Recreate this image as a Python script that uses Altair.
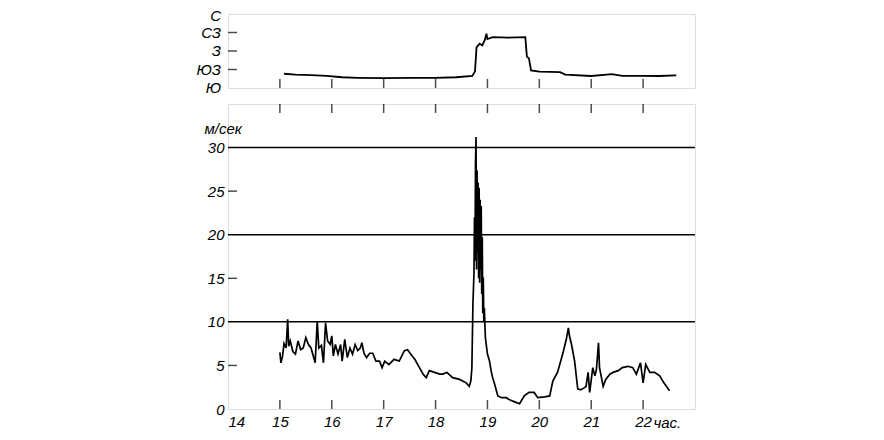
import altair as alt
import pandas as pd

# ---- data ----
speed_hours = [15.00, 15.02, 15.05, 15.08, 15.12, 15.15, 15.17, 15.20, 15.25, 15.30,
               15.35, 15.40, 15.45, 15.50, 15.55, 15.60, 15.68, 15.72, 15.75, 15.80,
               15.84, 15.88, 15.92, 15.97, 16.00, 16.03, 16.07, 16.12, 16.17, 16.20,
               16.25, 16.30, 16.35, 16.40, 16.45, 16.50, 16.55, 16.58, 16.62, 16.67,
               16.73, 16.79, 16.85, 16.92, 16.97, 17.02, 17.10, 17.20, 17.30, 17.40,
               17.46, 17.52, 17.60, 17.69, 17.76, 17.82, 17.88, 17.98, 18.08, 18.14,
               18.22, 18.33, 18.46, 18.59, 18.65, 18.68, 18.70, 18.72, 18.74, 18.75,
               18.76, 18.77, 18.78, 18.79, 18.80, 18.81, 18.82, 18.83, 18.84, 18.85,
               18.86, 18.87, 18.88, 18.89, 18.90, 18.91, 18.92, 18.93, 18.94, 18.96,
               19.00, 19.04, 19.07, 19.10, 19.14, 19.20, 19.27, 19.36, 19.42, 19.49,
               19.62, 19.71, 19.80, 19.90, 19.97, 20.10, 20.20, 20.26, 20.35, 20.45,
               20.52, 20.56, 20.58, 20.62, 20.68, 20.74, 20.80, 20.87, 20.90, 20.94,
               20.97, 21.03, 21.07, 21.10, 21.14, 21.16, 21.23, 21.28, 21.36, 21.42,
               21.52, 21.60, 21.71, 21.80, 21.87, 21.95, 22.00, 22.05, 22.13, 22.22,
               22.32, 22.40, 22.51]
speed_values = [6.5, 5.3, 6.0, 7.5, 7.0, 10.3, 7.2, 7.8, 6.6, 6.3,
                7.8, 6.8, 7.0, 8.2, 7.4, 7.0, 5.3, 10.1, 7.0, 7.3,
                5.3, 9.9, 7.8, 7.4, 8.4, 6.1, 7.4, 6.3, 7.4, 5.5,
                8.0, 5.9, 7.0, 6.3, 7.4, 6.7, 7.0, 7.6, 6.4, 5.9,
                6.4, 6.4, 5.5, 5.5, 4.75, 5.5, 5.1, 5.7, 5.5, 6.7,
                6.8, 6.3, 5.7, 4.75, 4.0, 3.6, 4.4, 4.2, 4.0, 4.0,
                4.2, 3.6, 3.4, 3.0, 2.6, 3.2, 4.7, 12.0, 15.5, 22.0,
                17.0, 28.0, 31.2, 16.0, 27.4, 18.0, 26.0, 15.0, 25.4, 14.5,
                24.0, 16.0, 23.3, 13.2, 19.7, 11.0, 15.1, 10.1, 11.6, 8.2,
                6.3, 5.5, 4.4, 3.6, 2.8, 1.5, 1.3, 1.3, 1.1, 0.9,
                0.6, 1.5, 1.9, 1.9, 1.3, 1.4, 1.5, 3.2, 4.2, 6.3,
                8.0, 9.3, 8.4, 7.4, 5.5, 2.3, 2.2, 2.45, 2.6, 4.2,
                1.9, 4.75, 3.8, 4.5, 7.6, 4.75, 2.6, 3.4, 4.0, 4.2,
                4.4, 4.75, 4.9, 4.75, 4.0, 5.3, 3.0, 5.1, 4.2, 4.2,
                3.8, 3.0, 2.1]

# wind direction: 0 = Ю, 1 = ЮЗ, 2 = З, 3 = СЗ, 4 = С
dir_hours = [15.08, 15.30, 15.60, 15.90, 16.20, 16.50, 17.00, 17.50, 18.00, 18.40,
             18.71, 18.76, 18.79, 18.85, 18.90, 18.95, 18.98, 19.00, 19.10, 19.40,
             19.73, 19.76, 19.80, 19.84, 20.00, 20.40, 20.50, 21.00, 21.40, 21.60,
             22.00, 22.30, 22.64]
dir_values = [0.77, 0.72, 0.70, 0.65, 0.58, 0.55, 0.53, 0.55, 0.55, 0.58,
              0.65, 0.90, 2.20, 2.40, 2.30, 2.60, 2.93, 2.65, 2.75, 2.72,
              2.75, 1.70, 1.60, 0.95, 0.88, 0.86, 0.72, 0.65, 0.75, 0.66,
              0.65, 0.65, 0.68]
dir_labels = ["Ю", "ЮЗ", "З", "СЗ", "С"]
dir_label_pos = [0, 1, 2, 3, 4]

x_labels = [14, 15, 16, 17, 18, 19, 20, 21, 22]
inner_x_ticks = [15, 16, 17, 18, 19, 20, 21, 22]
speed_labels = [0, 5, 10, 15, 20, 25, 30]
speed_inner_ticks = [5, 15, 25]
dir_inner_ticks = [1, 2, 3]
grid_values = [10, 20, 30]

FONT = "Liberation Sans"
W = 467
H_TOP = 74
H_BOT = 305
X_MIN, X_MAX = 14, 23
Y_MAX = 35

xscale = alt.Scale(domain=[X_MIN, X_MAX], nice=False, zero=False)
ytop = alt.Scale(domain=[0, 4], nice=False)
ybot = alt.Scale(domain=[0, Y_MAX], nice=False)

speed_df = pd.DataFrame({"t": speed_hours, "v": speed_values})
dir_df = pd.DataFrame({"t": dir_hours, "d": dir_values})
lab_df = pd.DataFrame({"t": [X_MIN] * len(dir_labels), "d": dir_label_pos, "lab": dir_labels})

lbl = dict(labelFont=FONT, labelFontStyle="italic", labelFontSize=15, labelColor="black",
           labelOverlap=False)

# ---------- top panel (all axes drawn by hand) ----------
top_line = alt.Chart(dir_df).mark_line(color="black", strokeWidth=1.8).encode(
    x=alt.X("t:Q", scale=xscale, axis=None),
    y=alt.Y("d:Q", scale=ytop, axis=None),
)
txt = dict(font=FONT, fontStyle="italic", fontSize=15, align="right", baseline="middle", dx=-7,
           color="black")
top_labels = alt.Chart(lab_df).transform_filter("datum.d < 4").mark_text(**txt).encode(
    x=alt.X("t:Q", scale=xscale, axis=None), y=alt.Y("d:Q", scale=ytop, axis=None), text="lab:N")
top_label_n = alt.Chart(lab_df).transform_filter("datum.d == 4").mark_text(dy=2, **txt).encode(
    x=alt.X("t:Q", scale=xscale, axis=None), y=alt.Y("d:Q", scale=ytop, axis=None), text="lab:N")
top_yt = alt.Chart(pd.DataFrame({"t": [X_MIN] * len(dir_inner_ticks), "d": dir_inner_ticks})).mark_tick(
    orient="horizontal", size=9, thickness=1.5, color="black", xOffset=4.5
).encode(x=alt.X("t:Q", scale=xscale, axis=None), y=alt.Y("d:Q", scale=ytop, axis=None))
top_xt = alt.Chart(pd.DataFrame({"t": inner_x_ticks, "d": [0] * len(inner_x_ticks)})).mark_tick(
    orient="vertical", size=9, thickness=1.5, color="black", yOffset=-4.5
).encode(x=alt.X("t:Q", scale=xscale, axis=None), y=alt.Y("d:Q", scale=ytop, axis=None))
top = alt.layer(top_line, top_labels, top_label_n, top_yt, top_xt).properties(width=W, height=H_TOP)

# ---------- bottom panel ----------
bot_line = alt.Chart(speed_df).mark_line(color="black", strokeWidth=1.7).encode(
    x=alt.X("t:Q", scale=xscale,
            axis=alt.Axis(values=x_labels, format="d", title=None, ticks=False, domain=False,
                          grid=False, labelPadding=5, **lbl)),
    y=alt.Y("v:Q", scale=ybot,
            axis=alt.Axis(values=speed_labels, format="d", ticks=False, domain=False, grid=False,
                          labelPadding=4, title="м/сек", titleAngle=0, titleAlign="left",
                          titleBaseline="alphabetic", titleX=-24, titleY=29, titleFont=FONT,
                          titleFontStyle="italic", titleFontWeight="normal", titleFontSize=15,
                          titleColor="black", **lbl)),
)
grid = alt.Chart(pd.DataFrame({"v": grid_values})).mark_rule(color="black", strokeWidth=1.5).encode(
    y=alt.Y("v:Q", scale=ybot)
)
bot_yt = alt.Chart(pd.DataFrame({"t": [X_MIN] * len(speed_inner_ticks), "v": speed_inner_ticks})).mark_tick(
    orient="horizontal", size=9, thickness=1.5, color="black", xOffset=4.5
).encode(x=alt.X("t:Q", scale=xscale), y=alt.Y("v:Q", scale=ybot))
bot_xt_low = alt.Chart(pd.DataFrame({"t": inner_x_ticks, "v": [0] * len(inner_x_ticks)})).mark_tick(
    orient="vertical", size=9, thickness=1.5, color="black", yOffset=-4.5
).encode(x=alt.X("t:Q", scale=xscale), y=alt.Y("v:Q", scale=ybot))
bot_xt_high = alt.Chart(pd.DataFrame({"t": inner_x_ticks, "v": [Y_MAX] * len(inner_x_ticks)})).mark_tick(
    orient="vertical", size=9, thickness=1.5, color="black", yOffset=4.5
).encode(x=alt.X("t:Q", scale=xscale), y=alt.Y("v:Q", scale=ybot))
unit = alt.Chart(pd.DataFrame({"u": ["час."]})).mark_text(
    font=FONT, fontStyle="italic", fontSize=15, align="left", baseline="alphabetic", color="black"
).encode(x=alt.datum(22.2), y=alt.value(H_BOT + 19), text="u:N")
bot = alt.layer(bot_line, grid, bot_yt, bot_xt_low, bot_xt_high, unit).properties(width=W, height=H_BOT)

chart = alt.vconcat(top, bot, spacing=6).properties(
    padding={"left": 187, "top": 0, "right": 5, "bottom": 5}
).configure_view(stroke="black", strokeWidth=1.5).configure(background="white")

chart.save("out.html", embed_options={"renderer": "svg", "actions": False})
